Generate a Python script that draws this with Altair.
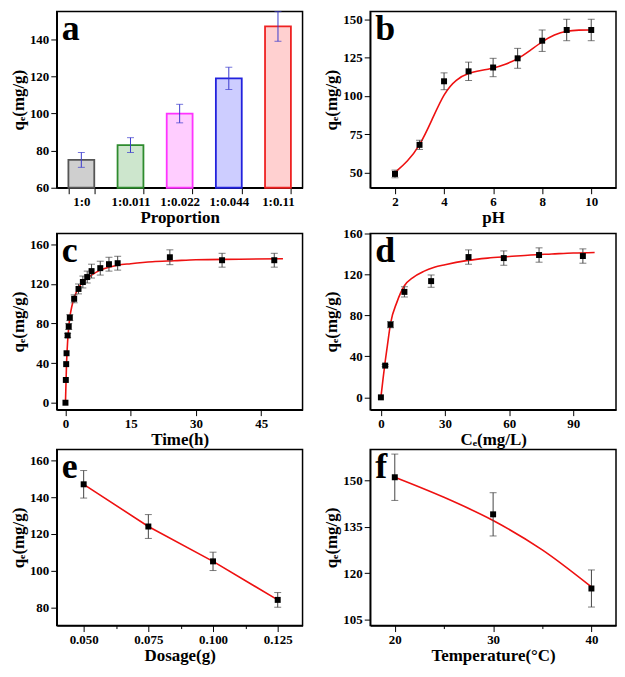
import json
import altair as alt
import pandas as pd

# ---------------- data ----------------
# (a) proportion
a_props = ["1:0", "1:0.011", "1:0.022", "1:0.044", "1:0.11"]
a_q = [75, 83, 100, 119, 147]
a_err = [4, 4, 5, 6, 8]
a_stroke = ["#555555", "#2e8b2e", "#ff33ff", "#2222dd", "#ee2222"]
a_fill = ["#cfcfcf", "#cde6cd", "#ffcdff", "#cdcdff", "#ffd0d0"]

# (b) pH
b_ph = [2, 3, 4, 5, 6, 7, 8, 9, 10]
b_q = [49, 68, 109.5, 116, 118.5, 124.5, 136, 143, 143]
b_err = [2.5, 3, 5.5, 6, 6, 6.5, 7, 7, 7]
b_fit_x = [2, 2.5, 3, 3.5, 4, 4.5, 5, 5.5, 6, 6.5, 7, 7.5, 8, 8.5, 9, 9.5, 10]
b_fit_y = [50, 57, 67, 84, 102, 111, 115, 116.5, 118, 120.5, 124, 129.5, 135.5, 140, 142.5, 143, 143]

# (c) time
c_t = [0, 0.083, 0.167, 0.25, 0.5, 0.75, 1, 2, 3, 4, 5, 6, 8, 10, 12, 24, 36, 48]
c_q = [0, 23, 39, 50, 68, 77, 86, 105, 115, 122, 127, 133, 136, 140, 141, 147, 144, 144]
c_err = [0, 0, 0, 0, 2, 3, 3, 4, 5, 6, 6, 7, 7, 7, 7, 7.5, 7, 7]
c_fit_x = [0, 0.25, 0.5, 0.75, 1, 1.5, 2, 3, 4, 5, 6, 8, 10, 12, 15, 20, 25, 30, 40, 50]
c_fit_y = [0, 40, 62, 76, 86, 98, 106, 116, 122, 126, 129, 134, 137, 139, 140.5, 142.5, 143.5, 144.5, 145, 145.5]

# (d) Ce
d_ce = [0, 2, 4.5, 11, 23.5, 41, 57.5, 74, 94.5]
d_q = [0, 31, 71, 103, 113.5, 137, 136, 139, 138]
d_err = [0, 1, 3, 5, 6, 7, 7, 7, 7]
d_fit_x = [0, 1, 2, 3, 4.5, 7.5, 11, 15, 20, 25, 30, 40, 50, 60, 70, 80, 90, 100]
d_fit_y = [0, 18, 35, 50, 72, 93, 109, 117, 123, 127, 129.5, 133.5, 136, 137.5, 139, 140, 141, 141.5]

# (e) dosage
e_dose = [0.05, 0.075, 0.1, 0.125]
e_q = [147, 124, 105, 84]
e_err = [7.5, 6.5, 5, 4]

# (f) temperature
f_temp = [20, 30, 40]
f_q = [151, 139, 115]
f_err = [7.5, 7, 6]
f_fit_x = [20, 25, 30, 35, 40]
f_fit_y = [151, 144.5, 137, 127.5, 115.5]

FONT = "Liberation Serif"
W, H = 247, 177
YT = "q\u2091(mg/g)"


def axis(title, majors, minors, fmt=None, title_pad=None):
    vals = sorted(majors + minors)
    maj = json.dumps(majors)
    kw = dict(
        title=title,
        values=vals,
        labelExpr=f"indexof({maj}, datum.value) < 0 ? '' : datum.label",
        tickSize={"condition": {"test": f"indexof({maj}, datum.value) < 0", "value": 3}, "value": 6},
        labelOverlap=False,
        labelFlush=False,
    )
    if fmt:
        kw["format"] = fmt
    if title_pad is not None:
        kw["titlePadding"] = title_pad
    return alt.Axis(**kw)


def letter(ch):
    return alt.Chart(pd.DataFrame({"t": [ch]})).mark_text(
        font=FONT, fontWeight="bold", fontSize=36, align="left", baseline="alphabetic", color="black"
    ).encode(text="t:N", x=alt.value(5), y=alt.value(29))


def scatter_panel(xs, ys, es, fitx, fity, xdom, ydom, xaxis, yaxis, ch, interp="monotone"):
    df = pd.DataFrame({"x": xs, "y": ys, "lo": [v - e for v, e in zip(ys, es)], "hi": [v + e for v, e in zip(ys, es)]})
    dfe = df[[e > 0 for e in es]]
    fit = pd.DataFrame({"x": fitx, "y": fity})
    xsc = alt.Scale(domain=xdom, nice=False, zero=False)
    ysc = alt.Scale(domain=ydom, nice=False, zero=False)
    line = alt.Chart(fit).mark_line(color="#ee1111", strokeWidth=1.6, interpolate=interp, clip=True).encode(
        x=alt.X("x:Q", scale=xsc, axis=xaxis), y=alt.Y("y:Q", scale=ysc, axis=yaxis)
    )
    bars = alt.Chart(dfe).mark_rule(color="#444444", strokeWidth=1).encode(x="x:Q", y="lo:Q", y2="hi:Q")
    cap_lo = alt.Chart(dfe).mark_tick(color="#444444", thickness=1, size=7, orient="horizontal").encode(x="x:Q", y="lo:Q")
    cap_hi = alt.Chart(dfe).mark_tick(color="#444444", thickness=1, size=7, orient="horizontal").encode(x="x:Q", y="hi:Q")
    pts = alt.Chart(df).mark_square(color="black", size=36, opacity=1).encode(x="x:Q", y="y:Q")
    return alt.layer(line, bars, cap_lo, cap_hi, pts, letter(ch)).properties(width=W, height=H)


# (a)
dfa = pd.DataFrame({"p": a_props, "q": a_q, "lo": [q - e for q, e in zip(a_q, a_err)],
                    "hi": [q + e for q, e in zip(a_q, a_err)], "s": a_stroke, "f": a_fill})
ysc_a = alt.Scale(domain=[60, 155], nice=False, zero=False)
xa = alt.X("p:N", sort=a_props, scale=alt.Scale(paddingInner=0.48, paddingOuter=0.24),
           axis=alt.Axis(title="Proportion", labelAngle=0, tickBand="extent", tickSize=6, titlePadding=1))
bars_a = alt.Chart(dfa).mark_bar(strokeWidth=1.8, size=26).encode(
    x=xa,
    y=alt.Y("q:Q", scale=ysc_a, axis=axis(YT, [60, 80, 100, 120, 140], [70, 90, 110, 130, 150])),
    y2=alt.datum(60),
    fill=alt.Fill("f:N", scale=None),
    stroke=alt.Stroke("s:N", scale=None),
)
err_a = alt.Chart(dfa).mark_rule(color="#3a3acd", strokeWidth=1).encode(x=alt.X("p:N", sort=a_props), y="lo:Q", y2="hi:Q")
capl_a = alt.Chart(dfa).mark_tick(color="#3a3acd", thickness=1, size=7, orient="horizontal").encode(x=alt.X("p:N", sort=a_props), y="lo:Q")
caph_a = alt.Chart(dfa).mark_tick(color="#3a3acd", thickness=1, size=7, orient="horizontal").encode(x=alt.X("p:N", sort=a_props), y="hi:Q")
pa = alt.layer(bars_a, err_a, capl_a, caph_a, letter("a")).properties(width=W, height=H)

pb = scatter_panel(b_ph, b_q, b_err, b_fit_x, b_fit_y, [0.99, 11.01], [40, 155],
                   axis("pH", [2, 4, 6, 8, 10], [3, 5, 7, 9], title_pad=1),
                   axis(YT, [50, 75, 100, 125, 150], [62.5, 87.5, 112.5, 137.5]), "b", "basis")
pc = scatter_panel(c_t, c_q, c_err, c_fit_x, c_fit_y, [-2, 54.5], [-7, 171],
                   axis("Time(h)", [0, 15, 30, 45], [7.5, 22.5, 37.5, 52.5], title_pad=1),
                   axis(YT, [0, 40, 80, 120, 160], [20, 60, 100, 140]), "c")
pd_ = scatter_panel(d_ce, d_q, d_err, d_fit_x, d_fit_y, [-5, 110], [-12, 160],
                    axis("C\u2091(mg/L)", [0, 30, 60, 90], [15, 45, 75, 105], title_pad=1),
                    axis(YT, [0, 40, 80, 120, 160], [20, 60, 100, 140]), "d")
pe = scatter_panel(e_dose, e_q, e_err, e_dose, e_q, [0.0396, 0.1346], [70, 166],
                   axis("Dosage(g)", [0.05, 0.075, 0.1, 0.125], [0.0625, 0.0875, 0.1125], fmt=".3f", title_pad=1),
                   axis(YT, [80, 100, 120, 140, 160], [90, 110, 130, 150]), "e", "linear")
pf = scatter_panel(f_temp, f_q, f_err, f_fit_x, f_fit_y, [17.5, 42.5], [103, 160],
                   axis("Temperature(\u00b0C)", [20, 30, 40], [25, 35], title_pad=1),
                   axis(YT, [105, 120, 135, 150], [112.5, 127.5, 142.5, 157.5]), "f")

chart = alt.vconcat(
    alt.hconcat(pa, pb, spacing=18),
    alt.hconcat(pc, pd_, spacing=18),
    alt.hconcat(pe, pf, spacing=18),
    spacing=0,
).properties(padding=0, background="white").configure_view(
    stroke="black", strokeWidth=1.5
).configure_axis(
    labelFont=FONT, labelFontWeight="bold", labelFontSize=13, labelColor="black",
    titleFont=FONT, titleFontWeight="bold", titleFontSize=17, titleColor="black",
    domainColor="black", domainWidth=1.5, tickColor="black", tickWidth=1, grid=False, labelPadding=2,
).configure_axisY(titlePadding=2)

chart.save("out.html", embed_options={"renderer": "svg", "actions": False})
